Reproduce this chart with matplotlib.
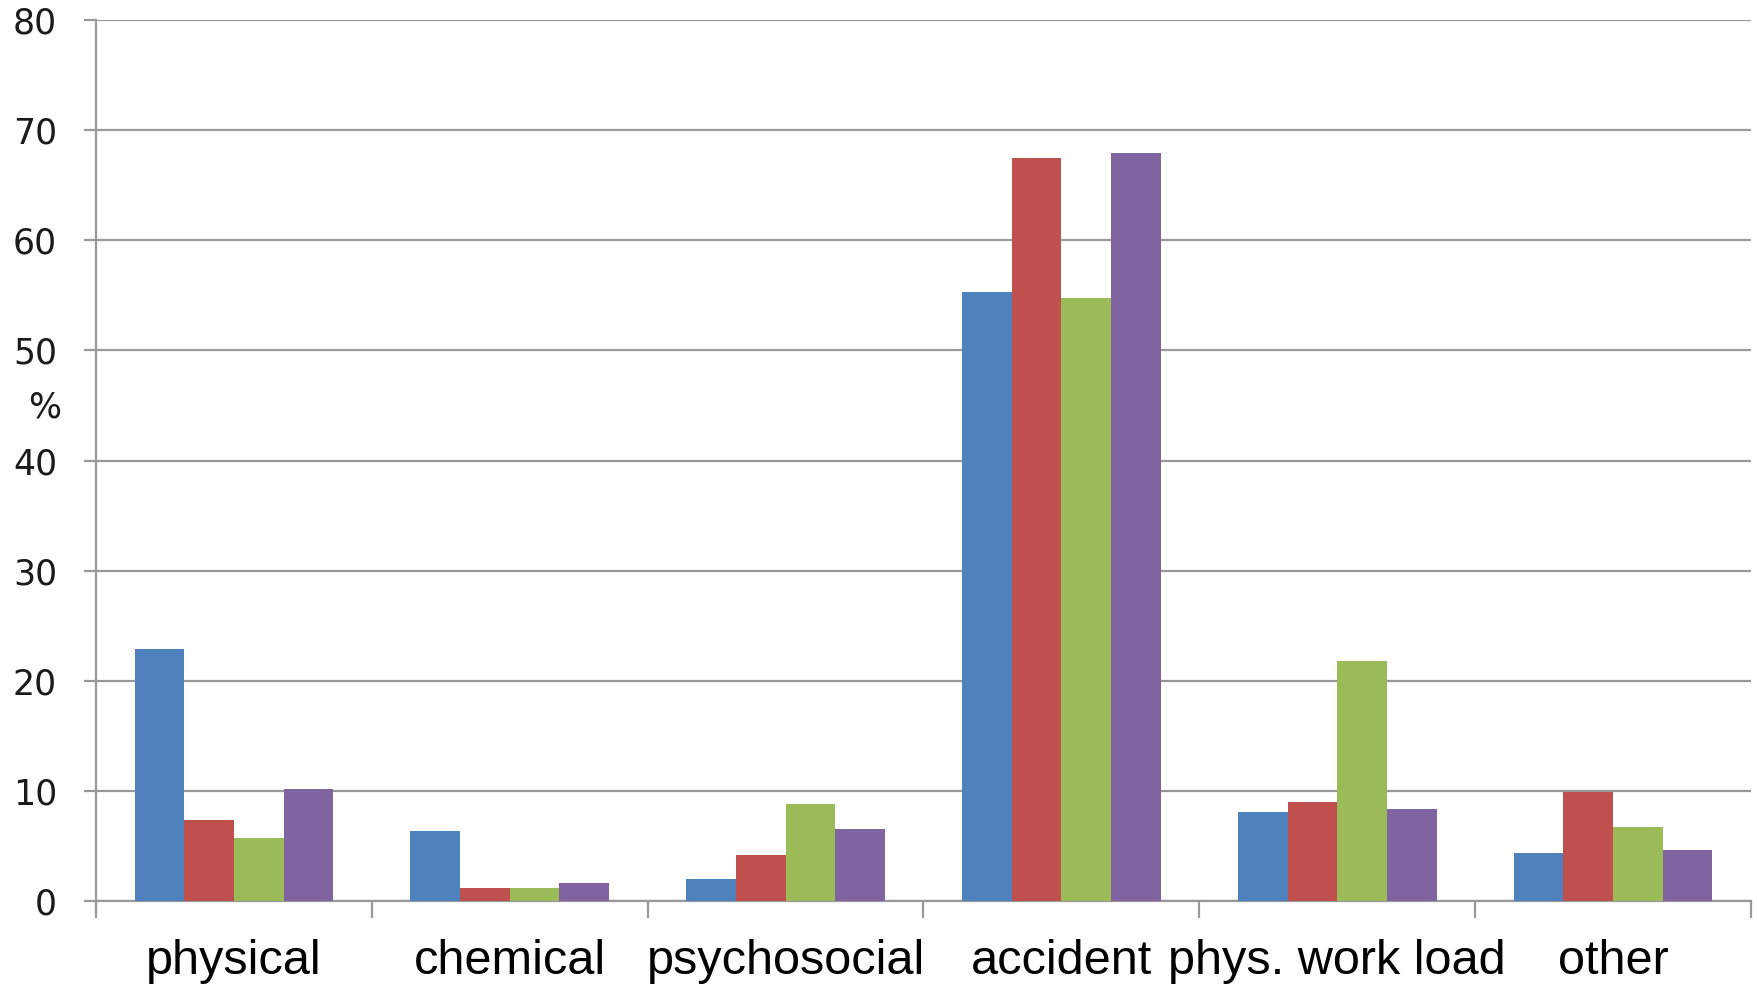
import numpy as np
import matplotlib.pyplot as plt

# datos (%)
categorias = ['physical', 'chemical', 'psychosocial', 'accident', 'phys. work load', 'other']
serie_1 = [22.9, 6.4, 2.0, 55.3, 8.1, 4.4]
serie_2 = [7.4, 1.2, 4.2, 67.5, 9.0, 9.9]
serie_3 = [5.7, 1.2, 8.8, 54.8, 21.8, 6.7]
serie_4 = [10.2, 1.6, 6.5, 67.9, 8.4, 4.6]

colores = ['#4F81BD', '#C0504D', '#9BBB59', '#8064A2']
gris = '#999999'

fig = plt.figure(figsize=(17.58, 9.88), dpi=100)
ax = fig.add_axes([0.0546, 0.088, 0.9414, 0.8918])

x = np.arange(len(categorias))
ancho = 0.18
for i, serie in enumerate([serie_1, serie_2, serie_3, serie_4]):
    ax.bar(x + (i - 1.5) * ancho, serie, width=ancho, color=colores[i], zorder=3)

ax.set_xlim(-0.5, len(categorias) - 0.5)
ax.set_ylim(0, 80)

# Grilla horizontal
ax.set_yticks(np.arange(0, 81, 10))
ax.yaxis.grid(True, color=gris, linewidth=1.6, zorder=0)
ax.tick_params(axis='y', length=9, width=1.6, color=gris, pad=19, labelsize=25)
for lbl in ax.get_yticklabels():
    lbl.set_color('#1a1a1a')

# ticks de separacion en x y labels centrados
ax.set_xticks(np.arange(-0.5, len(categorias)))
ax.set_xticklabels([])
ax.set_xticks(x, minor=True)
ax.set_xticklabels(categorias, minor=True, fontsize=35, family='Liberation Sans')
ax.tick_params(axis='x', which='major', length=12, width=1.6, color=gris)
ax.tick_params(axis='x', which='minor', length=0, pad=27)

for s in ['top', 'right']:
    ax.spines[s].set_visible(False)
ax.spines['left'].set_color(gris)
ax.spines['left'].set_linewidth(1.6)
ax.spines['left'].set_bounds(-1.1, 80)
ax.spines['bottom'].set_color(gris)
ax.spines['bottom'].set_linewidth(1.6)

ax.text(-0.021, 0.56, '%', transform=ax.transAxes, fontsize=25, ha='right', va='center', color='#1a1a1a')

fig.savefig('out.png', dpi=100)
